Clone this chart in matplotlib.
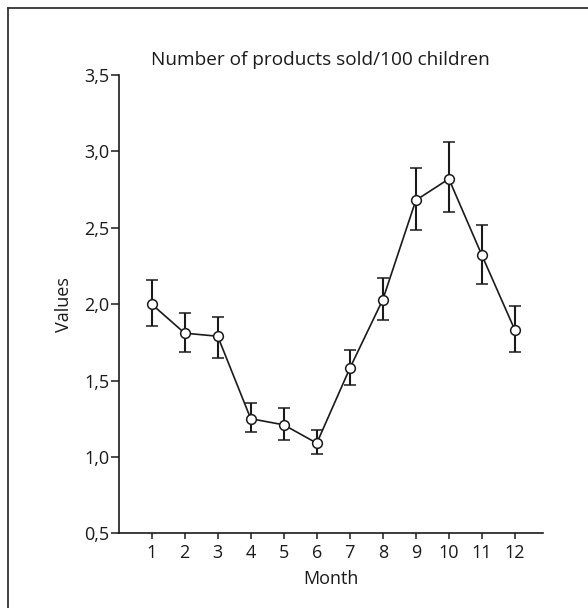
import matplotlib
matplotlib.use("Agg")
import matplotlib.pyplot as plt
from matplotlib.lines import Line2D
import numpy as np

months = [1, 2, 3, 4, 5, 6, 7, 8, 9, 10, 11, 12]
values = [2.00, 1.81, 1.79, 1.25, 1.21, 1.09, 1.58, 2.03, 2.68, 2.82, 2.32, 1.83]
err_low = [0.14, 0.12, 0.14, 0.085, 0.10, 0.07, 0.11, 0.135, 0.195, 0.22, 0.19, 0.14]
err_high = [0.155, 0.13, 0.125, 0.10, 0.11, 0.085, 0.12, 0.14, 0.21, 0.24, 0.20, 0.155]
yticks = [0.5, 1.0, 1.5, 2.0, 2.5, 3.0, 3.5]
ytick_labels = ["0,5", "1,0", "1,5", "2,0", "2,5", "3,0", "3,5"]
title = "Number of products sold/100 children"
xlabel = "Month"
ylabel = "Values"

plt.rcParams['font.family'] = ['Open Sans', 'DejaVu Sans']

W, H = 588, 608
fig = plt.figure(figsize=(W / 100, H / 100), dpi=100)
ax = fig.add_axes([119.3 / W, 1 - 533.3 / H, (543 - 119.3) / W, (533.3 - 75) / H])

ax.errorbar(months, values, yerr=[err_low, err_high], color='#1a1a1a', lw=1.2,
            elinewidth=1.5, capsize=4, capthick=1.8, marker='o', ms=7,
            mfc='white', mec='#1a1a1a', mew=1.1, zorder=3)

ax.set_xlim(0.02, 12.85)
ax.set_ylim(0.5, 3.5)
ax.set_xticks(months)
ax.set_xticklabels([str(m) for m in months])
ax.set_yticks(yticks)
ax.set_yticklabels(ytick_labels)
for s in ['top', 'right']:
    ax.spines[s].set_visible(False)
for s in ['left', 'bottom']:
    ax.spines[s].set_linewidth(1.2)
    ax.spines[s].set_color('#1a1a1a')
ax.tick_params(axis='y', length=6, width=1.1, labelsize=13, pad=1, colors='#1a1a1a')
ax.tick_params(axis='x', length=4.5, width=1.1, labelsize=13, pad=3, colors='#1a1a1a')

ax.set_title(title, fontsize=13.7, pad=7, color='#1a1a1a', x=0.474)
ax.set_xlabel(xlabel, fontsize=13, labelpad=6, color='#1a1a1a')
ax.set_ylabel(ylabel, fontsize=13, labelpad=8, color='#1a1a1a')

# partial frame (top and left edges)
fig.add_artist(Line2D([8 / W, 1], [1 - 8 / H, 1 - 8 / H], transform=fig.transFigure,
                      color='#333333', lw=1.3))
fig.add_artist(Line2D([8 / W, 8 / W], [0, 1 - 8 / H], transform=fig.transFigure,
                      color='#333333', lw=1.3))

fig.savefig("out.png", dpi=100)
